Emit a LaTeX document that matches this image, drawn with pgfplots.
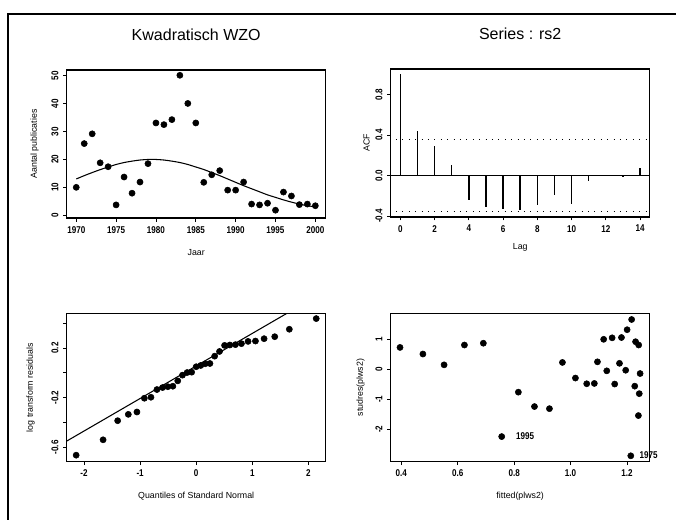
\documentclass[border=0pt]{standalone}
\usepackage{fontspec}
\setmainfont{Liberation Sans}
\newfontfamily\tickfont[FakeStretch=0.82]{Liberation Sans Bold}
\usepackage{pgfplots}
\pgfplotsset{compat=1.18}
\newlength\px
\setlength\px{0.75pt}
\begin{document}
\begin{tikzpicture}
\pgfplotsset{
  rplot/.style={
    scale only axis, width=259\px, height=148\px,
    axis line style={line width=0.9pt},
    tick style={black, line width=0.6pt},
    tick align=outside, xtick pos=bottom, ytick pos=left,
    major tick length=3.5\px,
    tick label style={font=\tickfont\fontsize{7.4}{8}\selectfont},
    yticklabel style={rotate=90, anchor=south},
    label style={font=\fontsize{6.6}{8}\selectfont},
    xlabel style={at={([yshift=-35\px]axis description cs:0.5,0)}, anchor=center},
    ylabel style={at={([xshift=-32\px]axis description cs:0,0.5)}, anchor=center},
    title style={at={([yshift=27\px]axis description cs:0.5,1)}, anchor=center, font=\fontsize{12}{14}\selectfont},
    /pgf/number format/assume math mode=true,
    scaled ticks=false,
  },
  dot/.style={only marks, mark=*, mark size=2.3pt, black},
}
\path[use as bounding box] (0,0) rectangle (676\px,-520\px);
\draw[line width=0.8pt] (8\px,-520\px) -- (8\px,-14\px) -- (676\px,-14\px);

% Panel 1
\begin{axis}[rplot, at={(66.7\px,-70\px)}, anchor=north west,
  xmin=1968.8, xmax=2001.3, ymin=-1, ymax=52.1,
  xtick={1970,1975,...,2000}, ytick={0,10,...,50},
  xticklabel style={/pgf/number format/1000 sep={}},
  title={Kwadratisch WZO}, xlabel={Jaar}, ylabel={Aantal publicaties}]
\addplot[dot] coordinates {
(1970,10) (1971,25.7) (1972,29.2) (1973,18.8) (1974,17.4) (1975,3.7)
(1976,13.7) (1977,7.9) (1978,11.9) (1979,18.5) (1980,33.1) (1981,32.5)
(1982,34.3) (1983,50.2) (1984,40.1) (1985,33.1) (1986,11.8) (1987,14.5)
(1988,16) (1989,9) (1990,9) (1991,11.9) (1992,4) (1993,3.7) (1994,4.3)
(1995,1.8) (1996,8.3) (1997,6.9) (1998,3.8) (1999,4) (2000,3.4)};
\addplot[black, line width=0.8pt, smooth] coordinates {
(1970,13.0) (1971,14.2) (1972,15.3) (1973,16.35) (1974,17.3) (1975,18.2)
(1976,18.9) (1977,19.4) (1978,19.8) (1979,20.0) (1980,20.0) (1981,19.8)
(1982,19.4) (1983,18.9) (1984,18.2) (1985,17.3) (1986,16.4) (1987,15.3)
(1988,14.2) (1989,13.0) (1990,11.8) (1991,10.6) (1992,9.5) (1993,8.4)
(1994,7.3) (1995,6.4) (1996,5.5) (1997,4.7) (1998,4.0) (1999,3.4) (2000,3.0)};
\end{axis}

% Panel 2
\begin{axis}[rplot, at={(390.7\px,-69\px)}, anchor=north west,
  xmin=-0.56, xmax=14.56, ymin=-0.41, ymax=1.054,
  xtick={0,2,...,14}, ytick={-0.4,0,0.4,0.8},
  yticklabel style={/pgf/number format/.cd, fixed, precision=1, zerofill},
  title={Series : rs2}, xlabel={Lag}, ylabel={ACF},
  ylabel style={at={([xshift=-24\px]axis description cs:0,0.5)}},
  xlabel style={at={([yshift=-30\px]axis description cs:0.5,0)}}]
\addplot[black, line width=0.6pt] coordinates {(-1,0) (15,0)};
\addplot[black, line width=0.8pt, dash pattern=on 0.8pt off 4pt] coordinates {(-1,0.359) (15,0.359)};
\addplot[black, line width=0.8pt, dash pattern=on 0.8pt off 4pt] coordinates {(-1,-0.359) (15,-0.359)};
\addplot[ycomb, black, line width=1.1pt, no marks] coordinates {
(0,1.0) (1,0.44) (2,0.29) (3,0.10) (4,-0.245) (5,-0.31) (6,-0.33) (7,-0.345)
(8,-0.295) (9,-0.195) (10,-0.285) (11,-0.05) (12,0.003) (13,-0.003) (14,0.075)};
\end{axis}

% Panel 3
\begin{axis}[rplot, at={(66.7\px,-313.5\px)}, anchor=north west,
  xmin=-2.31, xmax=2.31, ymin=-0.715, ymax=0.478,
  xtick={-2,-1,0,1,2}, ytick={-0.6,-0.4,...,0.4},
  yticklabels={-0.6,,-0.2,,0.2,},
  xlabel={Quantiles of Standard Normal}, ylabel={log transform residuals},
  ylabel style={at={([xshift=-36\px]axis description cs:0,0.5)}}]
\addplot[black, line width=0.8pt] coordinates {(-2.4,-0.574) (1.8,0.527)};
\addplot[dot] coordinates {
(-2.141,-0.664) (-1.661,-0.540) (-1.401,-0.386) (-1.211,-0.335) (-1.057,-0.316)
(-0.925,-0.205) (-0.807,-0.197) (-0.700,-0.135) (-0.600,-0.119) (-0.506,-0.112)
(-0.416,-0.108) (-0.329,-0.065) (-0.245,-0.019) (-0.162,0.002) (-0.081,0.005)
(0,0.049) (0.081,0.059) (0.162,0.073) (0.245,0.075) (0.329,0.134) (0.416,0.172)
(0.506,0.221) (0.600,0.224) (0.700,0.227) (0.807,0.235) (0.925,0.253)
(1.057,0.256) (1.211,0.275) (1.401,0.291) (1.661,0.351) (2.141,0.437)};
\end{axis}

% Panel 4
\begin{axis}[rplot, at={(390.7\px,-313.5\px)}, anchor=north west,
  clip mode=individual,
  xmin=0.363, xmax=1.28, ymin=-3.07, ymax=1.86,
  xtick={0.4,0.6,...,1.2}, ytick={-2,-1,0,1},
  xticklabel style={/pgf/number format/.cd, fixed, precision=1, zerofill},
  xlabel={fitted(plws2)}, ylabel={studres(plws2)},
  ylabel style={at={([xshift=-30\px]axis description cs:0,0.5)}}]
\addplot[dot] coordinates {
(0.396,0.73) (0.477,0.51) (0.552,0.15) (0.624,0.81) (0.691,0.87)
(0.756,-2.24) (0.815,-0.76) (0.872,-1.24) (0.925,-1.31) (0.971,0.23)
(1.017,-0.29) (1.057,-0.48) (1.084,-0.47) (1.095,0.25) (1.117,1.00)
(1.128,-0.05) (1.147,1.05) (1.156,-0.49) (1.173,0.20) (1.180,1.06)
(1.195,-0.03) (1.200,1.32) (1.216,1.66) (1.213,-2.88) (1.227,-0.56)
(1.230,0.92) (1.241,0.81) (1.243,-0.81) (1.246,-0.14) (1.240,-1.54)};
\node[anchor=west, font=\tickfont\fontsize{7.4}{8}\selectfont] at (axis cs:0.79,-2.24) {1995};
\node[anchor=west, font=\tickfont\fontsize{7.4}{8}\selectfont] at (axis cs:1.228,-2.86) {1975};
\end{axis}
\end{tikzpicture}
\end{document}
